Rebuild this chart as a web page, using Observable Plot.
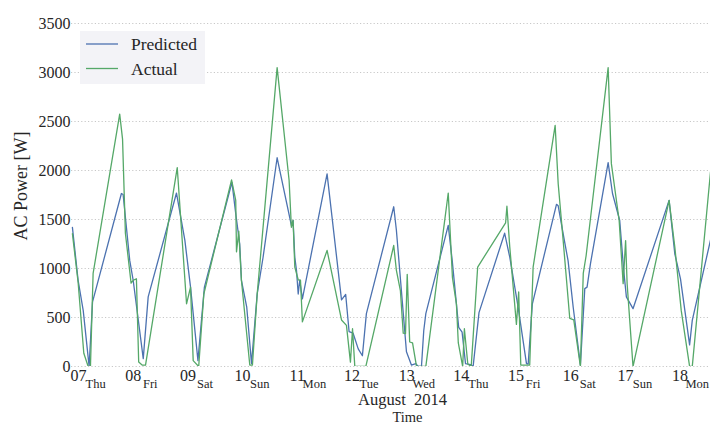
<!DOCTYPE html>
<html>
<head>
<meta charset="utf-8">
<script src="https://cdn.jsdelivr.net/npm/d3@7"></script>
<script src="https://cdn.jsdelivr.net/npm/@observablehq/plot@0.6"></script>
<style>
  html, body { margin: 0; padding: 0; background: #fff; }
  #chart { width: 710px; height: 430px; overflow: hidden; }
</style>
</head>
<body>
<div id="chart"></div>
<script>
// Predicted series
const predTime = [
  "2014-08-06T21:20","2014-08-06T23:50","2014-08-07T02:05","2014-08-07T04:40","2014-08-07T06:10",
  "2014-08-07T18:50","2014-08-07T19:35","2014-08-07T22:30","2014-08-08T00:00","2014-08-08T04:25",
  "2014-08-08T06:35","2014-08-08T19:00","2014-08-08T22:40","2014-08-09T01:10","2014-08-09T04:25",
  "2014-08-09T07:15","2014-08-09T19:20","2014-08-09T21:00","2014-08-09T22:45","2014-08-09T23:30",
  "2014-08-10T01:50","2014-08-10T03:55","2014-08-10T06:25","2014-08-10T09:00","2014-08-10T15:10",
  "2014-08-10T21:25","2014-08-10T22:10","2014-08-10T22:55","2014-08-10T23:40","2014-08-11T00:25",
  "2014-08-11T01:05","2014-08-11T02:15","2014-08-11T13:05","2014-08-11T19:25","2014-08-11T21:15",
  "2014-08-11T22:45","2014-08-12T00:30","2014-08-12T02:45","2014-08-12T04:35","2014-08-12T06:20",
  "2014-08-12T18:20","2014-08-12T19:30","2014-08-12T23:55","2014-08-13T02:05","2014-08-13T04:00",
  "2014-08-13T05:05","2014-08-13T06:30","2014-08-13T07:30","2014-08-13T08:25","2014-08-13T18:15",
  "2014-08-13T20:00","2014-08-13T22:50","2014-08-14T00:20","2014-08-14T01:50","2014-08-14T04:00",
  "2014-08-14T05:10","2014-08-14T07:45","2014-08-14T19:00","2014-08-14T21:15","2014-08-15T00:55",
  "2014-08-15T04:35","2014-08-15T05:20","2014-08-15T07:10","2014-08-15T17:45","2014-08-15T18:30",
  "2014-08-15T20:40","2014-08-15T22:50","2014-08-16T01:05","2014-08-16T04:15","2014-08-16T06:10",
  "2014-08-16T07:10","2014-08-16T08:40","2014-08-16T16:25","2014-08-16T18:20","2014-08-16T21:30",
  "2014-08-16T23:15","2014-08-17T00:25","2014-08-17T03:20","2014-08-17T19:10","2014-08-17T21:40",
  "2014-08-18T00:10","2014-08-18T04:10","2014-08-18T05:20","2014-08-18T13:20"
];
const predPower = [
  1420, 880, 570, 0, 660,
  1765, 1755, 1080, 880, 80,
  710, 1770, 1290, 810, 60,
  810, 1880, 1560, 1250, 880,
  605, 30, 740, 1115, 2130,
  1440, 1490, 1115, 980, 740,
  880, 690, 1965, 680, 735,
  355, 340, 180, 110, 540,
  1630, 1390, 150, 15, 30,
  0, 0, 365, 540, 1440,
  1080, 400, 350, 30, 20,
  0, 550, 1360, 1115, 605,
  30, 25, 640, 1655, 1640,
  1355, 1080, 605, 15, 795,
  810, 1050, 2080, 1765, 1490,
  980, 710, 590, 1695, 1150,
  895, 220, 470, 1290
];
// Actual series
const actTime = [
  "2014-08-06T21:20","2014-08-06T23:50","2014-08-07T02:20","2014-08-07T04:15","2014-08-07T05:15",
  "2014-08-07T06:25","2014-08-07T18:05","2014-08-07T19:20","2014-08-07T20:35","2014-08-07T23:05",
  "2014-08-08T00:00","2014-08-08T01:25","2014-08-08T02:25","2014-08-08T03:55","2014-08-08T05:25",
  "2014-08-08T19:20","2014-08-08T23:25","2014-08-09T01:10","2014-08-09T02:20","2014-08-09T04:45",
  "2014-08-09T07:00","2014-08-09T19:10","2014-08-09T21:00","2014-08-09T21:20","2014-08-09T22:20",
  "2014-08-09T23:30","2014-08-10T03:10","2014-08-10T04:20","2014-08-10T06:25","2014-08-10T15:10",
  "2014-08-10T20:25","2014-08-10T21:25","2014-08-10T22:10","2014-08-10T22:55","2014-08-11T00:25",
  "2014-08-11T01:25","2014-08-11T02:15","2014-08-11T13:05","2014-08-11T19:25","2014-08-11T21:35",
  "2014-08-11T23:20","2014-08-12T00:15","2014-08-12T01:15","2014-08-12T06:05","2014-08-12T18:20",
  "2014-08-12T19:30","2014-08-12T21:15","2014-08-12T22:30","2014-08-12T23:30","2014-08-13T00:15",
  "2014-08-13T01:20","2014-08-13T02:35","2014-08-13T04:20","2014-08-13T08:25","2014-08-13T18:15",
  "2014-08-13T20:05","2014-08-13T21:50","2014-08-13T22:40","2014-08-14T00:35","2014-08-14T01:20",
  "2014-08-14T02:50","2014-08-14T04:20","2014-08-14T07:10","2014-08-14T19:25","2014-08-14T20:00",
  "2014-08-14T21:15","2014-08-15T00:10","2014-08-15T01:10","2014-08-15T02:05","2014-08-15T06:00",
  "2014-08-15T07:30","2014-08-15T17:10","2014-08-15T18:30","2014-08-15T20:40","2014-08-15T23:35",
  "2014-08-16T01:20","2014-08-16T04:15","2014-08-16T05:30","2014-08-16T06:45","2014-08-16T16:25",
  "2014-08-16T17:50","2014-08-16T21:15","2014-08-16T23:00","2014-08-17T00:05","2014-08-17T00:45",
  "2014-08-17T03:20","2014-08-17T19:10","2014-08-17T21:40","2014-08-18T00:30","2014-08-18T04:10",
  "2014-08-18T05:20","2014-08-18T13:20"
];
const actPower = [
  1355, 860, 135, 0, 0,
  950, 2575, 2320, 1360, 850,
  880, 895, 45, 15, 15,
  2030, 640, 810, 60, 0,
  740, 1905, 1695, 1170, 1380,
  880, 15, 15, 740, 3050,
  1900, 1420, 1490, 1015, 885,
  880, 455, 1185, 475, 420,
  45, 385, 0, 0, 1235,
  980, 775, 340, 335, 940,
  250, 240, 0, 0, 1770,
  910, 640, 240, 0, 385,
  25, 0, 1015, 1465, 1635,
  1220, 430, 760, 15, 15,
  1015, 2460, 1865, 1290, 490,
  475, 0, 950, 1130, 3050,
  2070, 1490, 845, 1285, 845,
  0, 1695, 1220, 570, 0,
  0, 1985
];
// Axis ticks / labels
const yTicks = [0, 500, 1000, 1500, 2000, 2500, 3000, 3500];
const dayTicks = ["2014-08-07","2014-08-08","2014-08-09","2014-08-10","2014-08-11","2014-08-12",
                  "2014-08-13","2014-08-14","2014-08-15","2014-08-16","2014-08-17","2014-08-18"];
const weekdayLabels = ["Thu","Fri","Sat","Sun","Mon","Tue","Wed","Thu","Fri","Sat","Sun","Mon"];
const seriesNames = ["Predicted", "Actual"];
const seriesColors = ["#4c72b0", "#55a868"];
const xDomain = ["2014-08-06T20:56", "2014-08-18T13:20"];

const parse = s => new Date(s + (s.length === 10 ? "T00:00Z" : "Z"));
const pred = predTime.map((t, i) => ({time: parse(t), power: predPower[i]}));
const act = actTime.map((t, i) => ({time: parse(t), power: actPower[i]}));
const days = dayTicks.map(parse);
const wk = days.map((d, i) => ({time: new Date(+d + 7.5 * 3600e3), label: weekdayLabels[i]}));

const FONT = "'Liberation Serif', 'DejaVu Serif', serif";
const TXT = "#262626";

const plot = Plot.plot({
  width: 710,
  height: 430,
  marginLeft: 71,
  marginRight: 0,
  marginTop: 23,
  marginBottom: 64,
  style: {fontFamily: FONT, fontSize: "16px", color: TXT, background: "#fff", overflow: "visible"},
  x: {type: "utc", domain: xDomain.map(parse)},
  y: {domain: [0, 3500]},
  marks: [
    Plot.ruleY(yTicks, {stroke: "#c8c8c8", strokeWidth: 1, strokeDasharray: "1.2,2.2"}),
    Plot.axisY(yTicks, {tickSize: 0, tickPadding: 1, fontSize: 16, label: null, fill: TXT, tickFormat: d => String(d)}),
    Plot.axisX(days, {tickSize: 0, tickPadding: 3, fontSize: 16, tickFormat: d3.utcFormat("%d"), label: null, fill: TXT}),
    Plot.text(wk, {x: "time", text: "label", frameAnchor: "bottom", dy: 21, fontSize: 12.5, fill: TXT}),
    Plot.text(["August\u00a0 2014"], {frameAnchor: "bottom", dx: 11.5, dy: 38.5, fontSize: 16.5, fill: TXT}),
    Plot.text(["Time"], {frameAnchor: "bottom", dx: 16.5, dy: 55.7, fontSize: 14.5, fill: TXT}),
    Plot.line(pred, {x: "time", y: "power", stroke: seriesColors[0], strokeWidth: 1.3, clip: true}),
    Plot.line(act, {x: "time", y: "power", stroke: seriesColors[1], strokeWidth: 1.3, clip: true})
  ]
});

document.getElementById("chart").appendChild(plot);

// Y axis title and in-frame legend
const svg = d3.select(plot);
svg.append("text")
  .attr("transform", "translate(27,186) rotate(-90)")
  .attr("text-anchor", "middle")
  .attr("font-family", FONT)
  .attr("font-size", 18)
  .attr("fill", TXT)
  .text("AC Power [W]");

const lg = svg.append("g");
lg.append("rect").attr("x", 80).attr("y", 31).attr("width", 125).attr("height", 53).attr("fill", "#f3f3f7");
seriesNames.forEach((name, i) => {
  const y = 44 + i * 24.5;
  lg.append("line").attr("x1", 86).attr("x2", 118).attr("y1", y).attr("y2", y)
    .attr("stroke", seriesColors[i]).attr("stroke-width", 1.3);
  lg.append("text").attr("x", 131).attr("y", y + 6).attr("text-anchor", "start")
    .attr("font-family", FONT).attr("font-size", 17.5).attr("fill", TXT).text(name);
});
</script>
</body>
</html>
